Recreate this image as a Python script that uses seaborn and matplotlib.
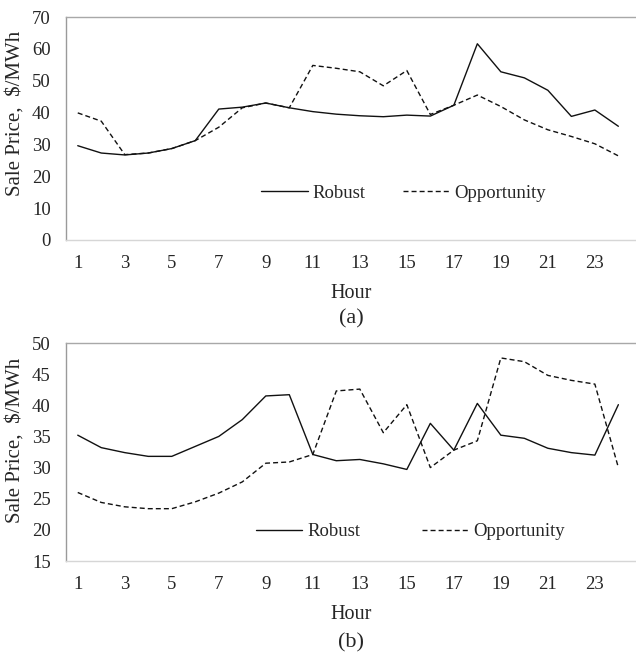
import numpy as np
import pandas as pd
import matplotlib
matplotlib.use("Agg")
import matplotlib.pyplot as plt
import seaborn as sns

hours = list(range(1, 25))
robust_a = [29.6, 27.3, 26.7, 27.3, 28.7, 31.2, 41.1, 41.7, 43.0, 41.5, 40.3, 39.5,
            39.0, 38.7, 39.2, 38.9, 42.3, 61.6, 52.8, 50.9, 47.0, 38.8, 40.8, 35.7]
opp_a = [39.9, 37.3, 26.8, 27.3, 28.7, 31.2, 35.4, 41.5, 43.0, 41.5, 54.8, 53.9,
         52.8, 48.4, 53.2, 39.4, 42.3, 45.5, 41.9, 37.7, 34.6, 32.5, 30.2, 26.4]
robust_b = [35.2, 33.2, 32.4, 31.8, 31.8, 33.4, 35.0, 37.7, 41.5, 41.7, 32.1, 31.1,
            31.3, 30.6, 29.7, 37.1, 32.8, 40.3, 35.2, 34.7, 33.1, 32.4, 32.0, 40.1]
opp_b = [26.0, 24.4, 23.7, 23.4, 23.4, 24.5, 25.9, 27.7, 30.7, 30.9, 32.1, 42.3,
         42.6, 35.6, 40.1, 30.0, 32.8, 34.3, 47.6, 47.0, 44.8, 44.0, 43.4, 30.0]
xtick_labels = [str(h) for h in range(1, 24, 2)]
series_names = ["Robust", "Opportunity"]

sns.set_style("white")
plt.rcParams['font.family'] = ['Liberation Serif', 'DejaVu Serif']

fig = plt.figure(figsize=(6.36, 6.57), dpi=100)
W, H = 636, 657

def make_axes(top_px, bottom_px):
    left = 66 / W
    return fig.add_axes([left, 1 - bottom_px / H, 1.0 - left, (bottom_px - top_px) / H])

ax_a = make_axes(17, 240)
ax_b = make_axes(343, 561)

def draw(ax, rob, opp, ylim, yticks, leg_x, leg_y, colspace, sub, sub_y, ylab_y):
    df = pd.DataFrame({
        "Hour": hours * 2,
        "Price": rob + opp,
        "Series": [series_names[0]] * len(hours) + [series_names[1]] * len(hours),
    })
    sns.lineplot(data=df, x="Hour", y="Price", hue="Series", style="Series",
                 palette={"Robust": "#111111", "Opportunity": "#111111"},
                 dashes={"Robust": "", "Opportunity": (3.6, 2.2)},
                 linewidth=1.0, ax=ax, legend=True)
    ax.set_xlim(0.5, 24.75)
    ax.set_ylim(*ylim)
    ax.set_yticks(yticks)
    ax.set_yticklabels([str(v) for v in yticks], fontsize=13.5)
    ax.set_xticks(list(range(1, 24, 2)))
    ax.set_xticklabels(xtick_labels, fontsize=13.5)
    ax.set_xticks([h + 0.5 for h in range(0, 25)], minor=True)
    ax.tick_params(axis="x", which="major", length=0, pad=10.5)
    ax.tick_params(axis="x", which="minor", direction="in", length=4, width=0.8,
                   color="#cfcfcf")
    ax.tick_params(axis="y", length=0, pad=11)
    ax.set_xlabel("Hour", fontsize=14.5, labelpad=9)
    ax.set_ylabel("Sale Price,  $/MWh", fontsize=15)
    ax.yaxis.set_label_coords((25 - 66) / 570, ylab_y)
    ax.spines["right"].set_visible(False)
    ax.spines["top"].set_color("#a8a8a8")
    ax.spines["left"].set_color("#9a9a9a")
    ax.spines["bottom"].set_color("#d6d6d6")
    for s in ("top", "left", "bottom"):
        ax.spines[s].set_linewidth(1.0)
    handles, labels = ax.get_legend_handles_labels()
    ax.legend(handles, labels, loc="center left", bbox_to_anchor=(leg_x, leg_y),
              ncol=2, frameon=False, fontsize=13.5, handlelength=2.5,
              handletextpad=0.25, columnspacing=colspace)
    ax.text(0.5, sub_y, sub, transform=ax.transAxes, ha="center", va="center",
            fontsize=16)

draw(ax_a, robust_a, opp_a, (0, 70), list(range(0, 71, 10)), 0.312, 0.21, 2.0,
     "(a)", (240 - 319) / 223, 0.567)
draw(ax_b, robust_b, opp_b, (15, 50), list(range(15, 51, 5)), 0.303, 0.135, 3.3,
     "(b)", (561 - 643) / 218, 0.555)

fig.savefig("out.png", dpi=100)
